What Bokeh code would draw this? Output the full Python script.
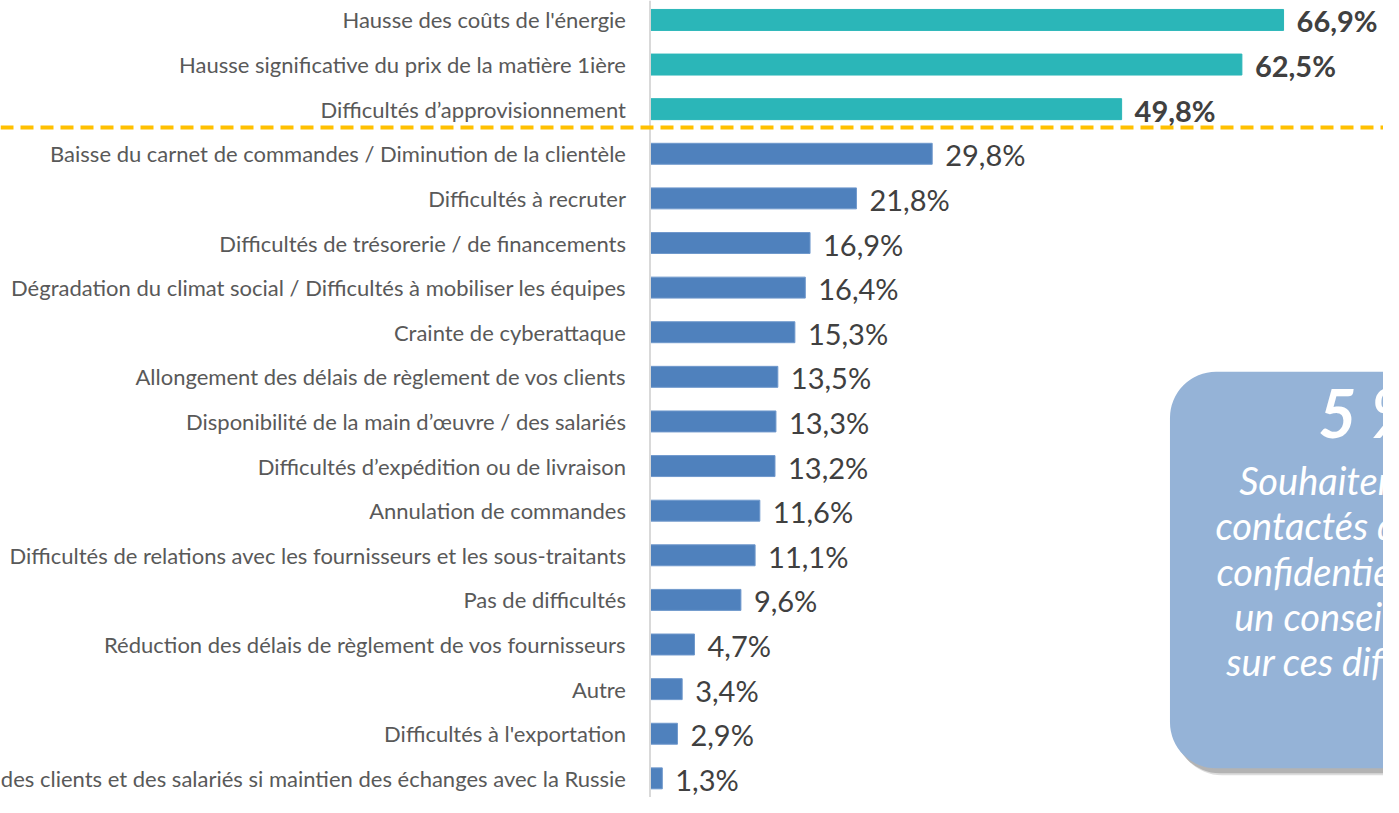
from bokeh.plotting import figure
from bokeh.models import ColumnDataSource, Range1d, Span, BoxAnnotation, Label
from bokeh.core.properties import value
from bokeh.embed import file_html
from bokeh.resources import INLINE

categories = [
    "Hausse des coûts de l'énergie",
    "Hausse significative du prix de la matière 1ière",
    "Difficultés d’approvisionnement",
    "Baisse du carnet de commandes / Diminution de la clientèle",
    "Difficultés à recruter",
    "Difficultés de trésorerie / de financements",
    "Dégradation du climat social / Difficultés à mobiliser les équipes",
    "Crainte de cyberattaque",
    "Allongement des délais de règlement de vos clients",
    "Disponibilité de la main d’œuvre / des salariés",
    "Difficultés d’expédition ou de livraison",
    "Annulation de commandes",
    "Difficultés de relations avec les fournisseurs et les sous-traitants",
    "Pas de difficultés",
    "Réduction des délais de règlement de vos fournisseurs",
    "Autre",
    "Difficultés à l'exportation",
    "Risque d'image auprès des clients et des salariés si maintien des échanges avec la Russie",
]
values = [66.9, 62.5, 49.8, 29.8, 21.8, 16.9, 16.4, 15.3, 13.5, 13.3, 13.2,
          11.6, 11.1, 9.6, 4.7, 3.4, 2.9, 1.3]
n_top = 3  # highlighted items above the dashed line
callout_value = "5 %"
callout_lines = ["Souhaitent être", "contactés de manière", "confidentielle par",
                 "un conseiller", "sur ces difficultés"]

FONT = "Lato"
TEAL = "#2BB6B8"
BLUE = "#4F81BD"
BOX = "#95B3D7"

# layout (reference pixels)
W, H = 1383, 797
REF_W, REF_H = 1399, 820
AXIS_X = 657.0
PX_PER_PCT = 9.58
ROW0_Y = 20.0
ROW_PX = 45.9


def dx(X):
    return (X - AXIS_X) / PX_PER_PCT


def dy(Y):
    return (Y - ROW0_Y) / ROW_PX


rows = list(range(len(categories)))
labels = [f"{v:.1f}%".replace(".", ",") for v in values]

src_top = ColumnDataSource(dict(row=rows[:n_top], value=values[:n_top],
                                cat=categories[:n_top], lbl=labels[:n_top]))
src_rest = ColumnDataSource(dict(row=rows[n_top:], value=values[n_top:],
                                 cat=categories[n_top:], lbl=labels[n_top:]))

p = figure(width=W, height=H, output_backend="svg", toolbar_location=None,
           x_range=Range1d(dx(0), dx(REF_W)),
           y_range=Range1d(dy(REF_H), dy(0)),
           min_border=0, x_axis_location=None, y_axis_location=None)
p.outline_line_color = None
p.xgrid.visible = False
p.ygrid.visible = False
p.background_fill_color = "white"
p.border_fill_color = "white"

# axis line
p.add_layout(Span(location=0, dimension="height", line_color="#D9D9D9", line_width=2))

bh = 0.47
p.hbar(y="row", left=0, right="value", height=bh, source=src_top,
       fill_color=TEAL, line_color=TEAL, line_width=1)
p.hbar(y="row", left=0, right="value", height=bh, source=src_rest,
       fill_color=BLUE, line_color="#6F98CC", line_width=1)

for src in (src_top, src_rest):
    p.text(x=0, y="row", text="cat", source=src, x_offset=-24,
           text_align="right", text_baseline="middle",
           text_font=value(FONT), text_font_size="22px", text_color="#595959")

p.text(x="value", y="row", text="lbl", source=src_top, x_offset=13, y_offset=1,
       text_align="left", text_baseline="middle", text_font=value(FONT),
       text_font_size="29px", text_font_style="bold", text_color="#404040")
p.text(x="value", y="row", text="lbl", source=src_rest, x_offset=13, y_offset=1,
       text_align="left", text_baseline="middle", text_font=value(FONT),
       text_font_size="29px", text_color="#404040")

# separator dashed line
p.add_layout(Span(location=(n_top - 1) + 0.41, dimension="width",
                  line_color="#FFC000", line_width=4, line_dash="13 7"))

# callout box with shadow
for sx, sy, c, a in [(6, 7, "#9a9a9a", 0.35), (4, 5, "#8a8a8a", 0.5)]:
    p.add_layout(BoxAnnotation(left=dx(1183 + sx), right=dx(1600), top=dy(382 + sy),
                               bottom=dy(790 + sy), fill_color=c, fill_alpha=a,
                               line_color=None, border_radius=46))
p.add_layout(BoxAnnotation(left=dx(1183), right=dx(1600), top=dy(382), bottom=dy(790),
                           fill_color=BOX, fill_alpha=1.0, line_color=None,
                           border_radius=46))

p.add_layout(Label(x=dx(1333), y=dy(424), text=callout_value, text_align="left",
                   text_baseline="middle", text_font=FONT, text_font_size="66px",
                   text_font_style="bold italic", text_color="white"))
line_x = [1253, 1229, 1230, 1248, 1240]
line_y = [493, 540, 587, 633, 680]
for t, X, Y in zip(callout_lines, line_x, line_y):
    p.add_layout(Label(x=dx(X), y=dy(Y), text=t, text_align="left",
                       text_baseline="middle", text_font=FONT, text_font_size="38px",
                       text_font_style="italic", text_color="white"))

open("out.html", "w").write(file_html(p, INLINE))
